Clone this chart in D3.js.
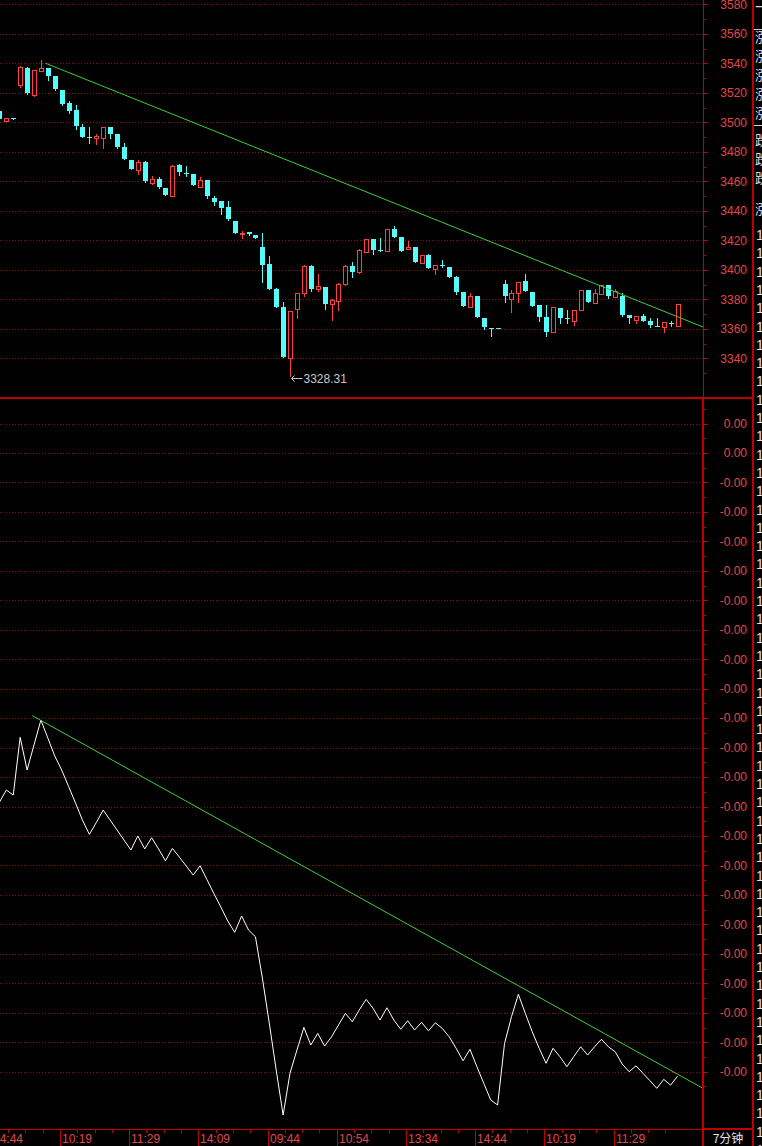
<!DOCTYPE html>
<html><head><meta charset="utf-8">
<script src="https://cdn.jsdelivr.net/npm/d3@7"></script>
<style>html,body{margin:0;padding:0;background:#000;overflow:hidden}</style>
</head><body><svg id="c" width="762" height="1146"></svg>
<script>
// ---------- DATA ----------
const candleOpen  = [3507.7,3501,3502.6,3525,3536.6,3518.5,3535,3536.6,3531.4,3522,3513.3,3508.4,3496.6,3490.3,3489.5,3489.6,3496.6,3492,3483.5,3474.5,3467.7,3473,3459,3461.6,3455.7,3450.3,3471,3465.6,3465,3456.4,3461,3448.5,3446.7,3442.8,3433.3,3424.5,3425.5,3423.6,3415.7,3404,3387,3375,3340,3373.3,3384.5,3402.6,3386.8,3388.6,3376.7,3379,3390.2,3402.6,3398.7,3412.3,3420.7,3413.8,3413,3427.5,3422,3414,3415.3,3404.5,3409.9,3400.4,3403,3401.7,3395.3,3384.8,3375,3382,3367.2,3360.6,3360.5,3390.4,3380.2,3384.1,3392.5,3385,3376.2,3368,3358.2,3374,3367.5,3365.3,3372.6,3386.3,3377.7,3383.7,3389.7,3381.4,3382.5,3369.5,3366.2,3368.9,3365.6,3362.2,3361.5,3364,3362.1];
const candleHigh  = [3508,3503,3502.6,3538,3537.5,3535.5,3542,3537,3531.5,3522,3514.7,3511.7,3498.9,3497,3492,3496.6,3497,3492,3486.2,3474.5,3474.5,3473.5,3463.6,3463,3455.7,3471,3471.5,3470.4,3465,3463,3461,3450,3447,3447,3433.3,3426.3,3426,3423.6,3425,3409.5,3388,3378,3372.1,3384.1,3403.3,3403.5,3397,3388.6,3380,3391,3403,3405,3414,3421,3421,3421.5,3428,3429.7,3422,3419.8,3415.3,3410,3410.5,3403.1,3406.7,3402.2,3396,3384.8,3384,3382,3367.5,3360.6,3360.5,3393,3386.3,3391.6,3397.2,3385,3376.2,3376.2,3374.6,3374,3372.6,3372.6,3386.3,3386.3,3386.8,3390,3390,3387,3384.1,3369.5,3369,3370.3,3367.2,3367.2,3364.5,3365.6,3377];
const candleLow   = [3501,3501,3502.4,3524,3519,3518,3535,3529,3522,3512,3506.5,3495.7,3489.8,3486.2,3485.3,3482.8,3489.6,3482.5,3475,3468.4,3465,3459.5,3458,3455.7,3450.7,3450,3464.3,3463.8,3457.5,3456,3449,3444,3438,3434,3425.2,3421.8,3423.5,3421.8,3392,3387,3375,3341,3328.31,3367.2,3382,3386,3385.7,3373.5,3366,3373,3390,3395.3,3398,3412,3410.8,3413,3413,3422.5,3413,3414,3405.1,3404.5,3401,3397.2,3402,3395.3,3383.5,3375.7,3375,3368,3360,3355.4,3360.3,3378.4,3371.6,3378.4,3386,3375.8,3365.6,3355.2,3358,3364.2,3364.2,3362.6,3372.6,3378.4,3377.7,3383.5,3380.8,3381.4,3368.5,3364.2,3364.2,3365.6,3361.5,3361.9,3358.2,3362,3362];
const candleClose = [3502,3503,3502.4,3537.3,3519.7,3535.3,3537,3531.4,3522.4,3512.4,3507.7,3497.5,3490.3,3489.6,3490.5,3496.6,3492,3483,3475.1,3468.4,3473.1,3460,3461.6,3456.4,3450.7,3470.4,3466,3465,3457.5,3460.9,3450,3446,3441.7,3434.5,3425.2,3425.2,3424.2,3421.8,3403.3,3387,3375,3341.2,3372.1,3384.1,3402.6,3386.8,3389,3377,3379.5,3390.4,3402.6,3398.7,3413.5,3420.7,3413.5,3413.3,3427.5,3422.5,3413,3415.3,3405.1,3410,3401.5,3403.1,3402.3,3395.3,3384.8,3375.7,3382,3368,3361.3,3360.2,3360.3,3382.5,3384.1,3391.6,3386,3375.8,3368.3,3358.2,3374.6,3367.6,3366.8,3372.6,3386.3,3378.4,3384.5,3389.7,3382.3,3385.5,3369.5,3367.6,3368.9,3365.6,3362.6,3361.9,3364.4,3363.6,3376.9];
const indicatorValues = [-0.002371,-0.002288,-0.002322,-0.001930,-0.002152,-0.001982,-0.001813,-0.001935,-0.002057,-0.002152,-0.002264,-0.002376,-0.002492,-0.002589,-0.002509,-0.002424,-0.002492,-0.002559,-0.002627,-0.002695,-0.002600,-0.002688,-0.002612,-0.002688,-0.002768,-0.002684,-0.002743,-0.002804,-0.002865,-0.002802,-0.002897,-0.002991,-0.003082,-0.003177,-0.003254,-0.003143,-0.003238,-0.003284,-0.003564,-0.003870,-0.004189,-0.004494,-0.004209,-0.004053,-0.003899,-0.004019,-0.003940,-0.004026,-0.003963,-0.003883,-0.003804,-0.003861,-0.003781,-0.003709,-0.003770,-0.003849,-0.003766,-0.003849,-0.003912,-0.003854,-0.003917,-0.003865,-0.003922,-0.003868,-0.003906,-0.003963,-0.004041,-0.004126,-0.004048,-0.004166,-0.004279,-0.004392,-0.004426,-0.004008,-0.003827,-0.003675,-0.003804,-0.003929,-0.004041,-0.004143,-0.004041,-0.004098,-0.004166,-0.004098,-0.004031,-0.004087,-0.004031,-0.003980,-0.004031,-0.004065,-0.004148,-0.004200,-0.004160,-0.004211,-0.004261,-0.004313,-0.004252,-0.004291,-0.004230];
const priceTicks = [3580,3560,3540,3520,3500,3480,3460,3440,3420,3400,3380,3360,3340];
const indicatorTicks = [0.0002,0,-0.0002,-0.0004,-0.0006,-0.0008,-0.0010,-0.0012,-0.0014,-0.0016,-0.0018,-0.0020,-0.0022,-0.0024,-0.0026,-0.0028,-0.0030,-0.0032,-0.0034,-0.0036,-0.0038,-0.0040,-0.0042];
const timeLabels = ["14:44","10:19","11:29","14:09","09:44","10:54","13:34","14:44","10:19","11:29"];
const timeLabelIndex = [-1.25,8.75,18.75,28.75,38.75,48.75,58.75,68.75,78.75,88.75];
const priceTrend = [[6.69,3540],[101.68,3361.3]];
const indicatorTrend = [[4.75,-0.001783],[101.68,-0.004313]];
const lowMark = {index:42, value:3328.31};
const periodLabel = "7分钟";
const sideTopChars = ["一","涨","涨","涨","涨","涨","跌","跌","跌","涨"];
const sideTopCharRows = [12,42,61,80,99,118,145,164,183,214];

// ---------- LAYOUT ----------
const W=762,H=1146, AX=703, RX=753, SEP=397, XAX=1129;
const RED="#c00000", LBL="#e04848", GRID="#8a1010", CYAN="#54fcfc", UPRED="#ff4040", GREEN="#3ccf3c";
const FONT="'Liberation Sans', Arial, sans-serif";

const svg=d3.select('#c').style('background','#000');
svg.append('rect').attr('width',W).attr('height',H).attr('fill','#000');

const x=d3.scaleLinear().domain([0,98]).range([-0.6,677.56]);
const yP=d3.scaleLinear().domain([3540,3340]).range([63.3,358.4]);
const yI=d3.scaleLinear().domain([0.0002,-0.0042]).range([423.5,1071.7]);

const defs=svg.append('defs');
defs.append('clipPath').attr('id','cpTop').append('rect').attr('x',0).attr('y',0).attr('width',AX).attr('height',SEP);
defs.append('clipPath').attr('id','cpBot').append('rect').attr('x',0).attr('y',SEP+1).attr('width',AX-1).attr('height',XAX-SEP-1);
defs.append('clipPath').attr('id','cpSide').append('rect').attr('x',RX+1).attr('y',0).attr('width',W-RX).attr('height',H);

// grids
const gridG=svg.append('g').attr('shape-rendering','crispEdges');
gridG.selectAll('.gp').data(priceTicks).join('line')
  .attr('x1',0).attr('x2',AX).attr('y1',d=>Math.round(yP(d))+0.5).attr('y2',d=>Math.round(yP(d))+0.5)
  .attr('stroke',GRID).attr('stroke-dasharray','1,2');
gridG.selectAll('.gi').data(indicatorTicks).join('line')
  .attr('x1',0).attr('x2',AX).attr('y1',d=>Math.round(yI(d))+0.5).attr('y2',d=>Math.round(yI(d))+0.5)
  .attr('stroke',GRID).attr('stroke-dasharray','1,2');

// candles
const candles=candleOpen.map((o,i)=>({i,o,h:candleHigh[i],l:candleLow[i],c:candleClose[i]}));
const cg=svg.append('g').attr('clip-path','url(#cpTop)').attr('shape-rendering','crispEdges');
candles.forEach(d=>{
  const cx=Math.round(x(d.i));
  const up=d.c>d.o;
  const col=up?UPRED:CYAN;
  const top=Math.round(yP(Math.max(d.o,d.c))), bot=Math.round(yP(Math.min(d.o,d.c)));
  const hi=Math.round(yP(d.h)), lo=Math.round(yP(d.l));
  if(up){
    if(hi<top) cg.append('line').attr('x1',cx+0.5).attr('x2',cx+0.5).attr('y1',hi).attr('y2',top).attr('stroke',col);
    if(lo>bot) cg.append('line').attr('x1',cx+0.5).attr('x2',cx+0.5).attr('y1',bot+1).attr('y2',lo+1).attr('stroke',col);
    if(bot-top>=2){
      cg.append('rect').attr('x',cx-2+0.5).attr('y',top+0.5).attr('width',4).attr('height',bot-top).attr('fill','none').attr('stroke',col);
    } else {
      cg.append('rect').attr('x',cx-2).attr('y',top).attr('width',5).attr('height',Math.max(1,bot-top+1)).attr('fill',col);
    }
  } else {
    cg.append('line').attr('x1',cx+0.5).attr('x2',cx+0.5).attr('y1',hi).attr('y2',lo+1).attr('stroke',col);
    cg.append('rect').attr('x',cx-2).attr('y',top).attr('width',5).attr('height',Math.max(1,bot-top)).attr('fill',col);
  }
});
// price trendline
cg.append('line').attr('shape-rendering','auto')
  .attr('x1',x(priceTrend[0][0])).attr('y1',yP(priceTrend[0][1]))
  .attr('x2',x(priceTrend[1][0])).attr('y2',yP(priceTrend[1][1]))
  .attr('stroke',GREEN).attr('stroke-width',1);

// low marker
const lx=Math.round(x(lowMark.index))+0.5, ly=Math.round(yP(lowMark.value))+2.5;
svg.append('path').attr('d',`M${lx+12},${ly} L${lx+1},${ly} M${lx+4},${ly-3} L${lx+1},${ly} L${lx+4},${ly+3}`)
  .attr('stroke','#c8c8c8').attr('fill','none');
svg.append('text').attr('x',lx+13).attr('y',ly+4.5).attr('fill','#c8c8c8')
  .attr('font-family',FONT).attr('font-size',12).text(lowMark.value.toFixed(2));

// indicator line
const bg=svg.append('g').attr('clip-path','url(#cpBot)');
bg.append('path').datum(indicatorValues)
  .attr('d',d3.line().x((d,i)=>x(i)).y(d=>yI(d)))
  .attr('fill','none').attr('stroke','#ffffff').attr('stroke-width',1);
bg.append('line')
  .attr('x1',x(indicatorTrend[0][0])).attr('y1',yI(indicatorTrend[0][1]))
  .attr('x2',x(indicatorTrend[1][0])).attr('y2',yI(indicatorTrend[1][1]))
  .attr('stroke',GREEN).attr('stroke-width',1);

// price axis
const pAx=svg.append('g').attr('transform',`translate(${AX},0)`)
  .call(d3.axisRight(yP).tickValues(priceTicks).tickSize(5).tickFormat(d=>String(d)));
pAx.select('.domain').remove();
pAx.selectAll('line').attr('stroke',RED).attr('shape-rendering','crispEdges');
pAx.selectAll('text').attr('x',44).attr('text-anchor','end').attr('fill',LBL)
  .attr('font-family',FONT).attr('font-size',12);
const pMin=svg.append('g').attr('transform',`translate(${AX},0)`)
  .call(d3.axisRight(yP).tickValues(priceTicks.map(d=>d-10).concat([3590])).tickSize(3).tickFormat(''));
pMin.select('.domain').remove();
pMin.selectAll('line').attr('stroke',RED).attr('shape-rendering','crispEdges');

// indicator axis
const iAx=svg.append('g').attr('transform',`translate(${AX},0)`)
  .call(d3.axisRight(yI).tickValues(indicatorTicks).tickSize(5).tickFormat(d=>d.toFixed(2)));
iAx.select('.domain').remove();
iAx.selectAll('line').attr('stroke',RED).attr('shape-rendering','crispEdges');
iAx.selectAll('text').attr('x',44).attr('text-anchor','end').attr('fill',LBL)
  .attr('font-family',FONT).attr('font-size',12);
const iMinVals=indicatorTicks.map(d=>d-0.0001).concat([0.0003]);
const iMin=svg.append('g').attr('transform',`translate(${AX},0)`)
  .call(d3.axisRight(yI).tickValues(iMinVals).tickSize(3).tickFormat(''));
iMin.select('.domain').remove();
iMin.selectAll('line').attr('stroke',RED).attr('shape-rendering','crispEdges');

// structural lines
const sg=svg.append('g').attr('shape-rendering','crispEdges');
sg.append('line').attr('x1',AX+0.5).attr('x2',AX+0.5).attr('y1',0).attr('y2',SEP).attr('stroke',RED);
sg.append('rect').attr('x',AX-1).attr('y',SEP).attr('width',2).attr('height',H-SEP).attr('fill',RED);
sg.append('rect').attr('x',0).attr('y',SEP).attr('width',RX+1).attr('height',2).attr('fill',RED);
sg.append('rect').attr('x',RX-1).attr('y',0).attr('width',2).attr('height',H).attr('fill',RED);
sg.append('rect').attr('x',0).attr('y',XAX).attr('width',RX).attr('height',1).attr('fill',RED);
sg.append('rect').attr('x',AX).attr('y',XAX-1).attr('width',RX-AX).attr('height',2).attr('fill',RED);

// time axis
const minorIdx=[];
timeLabelIndex.forEach(t=>{[2.5,5,7.5].forEach(k=>minorIdx.push(t+k));});
minorIdx.unshift(-3.75);
sg.selectAll('.tmin').data(minorIdx.filter(t=>x(t)<AX-2)).join('line')
  .attr('x1',t=>Math.round(x(t))+0.5).attr('x2',t=>Math.round(x(t))+0.5)
  .attr('y1',XAX+1).attr('y2',XAX+4).attr('stroke',RED);
sg.selectAll('.tmaj').data(timeLabelIndex).join('line')
  .attr('x1',t=>Math.round(x(t))+0.5).attr('x2',t=>Math.round(x(t))+0.5)
  .attr('y1',XAX+1).attr('y2',H).attr('stroke',RED);
svg.selectAll('.tlab').data(timeLabels).join('text')
  .attr('x',(d,i)=>Math.round(x(timeLabelIndex[i]))+2).attr('y',1143)
  .attr('fill',LBL).attr('font-family',FONT).attr('font-size',12).text(d=>d);

svg.append('text').attr('x',(AX+RX)/2).attr('y',1143).attr('text-anchor','middle')
  .attr('fill','#e0e0e0').attr('font-family',"'Noto Sans CJK SC',sans-serif").attr('font-size',12).text(periodLabel);

// right side clipped column
const side=svg.append('g').attr('clip-path','url(#cpSide)');
side.append('rect').attr('x',RX).attr('y',29).attr('width',10).attr('height',1).attr('fill','#d0d0d0');
side.append('rect').attr('x',RX).attr('y',125).attr('width',10).attr('height',1).attr('fill','#d0d0d0');
side.selectAll('.sc').data(sideTopChars).join('text')
  .attr('x',RX+2).attr('y',(d,i)=>sideTopCharRows[i])
  .attr('fill','#d8d8d8').attr('font-family',"'Noto Sans CJK SC',sans-serif").attr('font-size',14).text(d=>d);
const ones=d3.range(0,51);
side.selectAll('.so').data(ones).join('text')
  .attr('x',RX+3).attr('y',d=>240+d*18.3)
  .attr('fill','#e0e0e0').attr('font-family',FONT).attr('font-size',14).text('1');
</script></body></html>
